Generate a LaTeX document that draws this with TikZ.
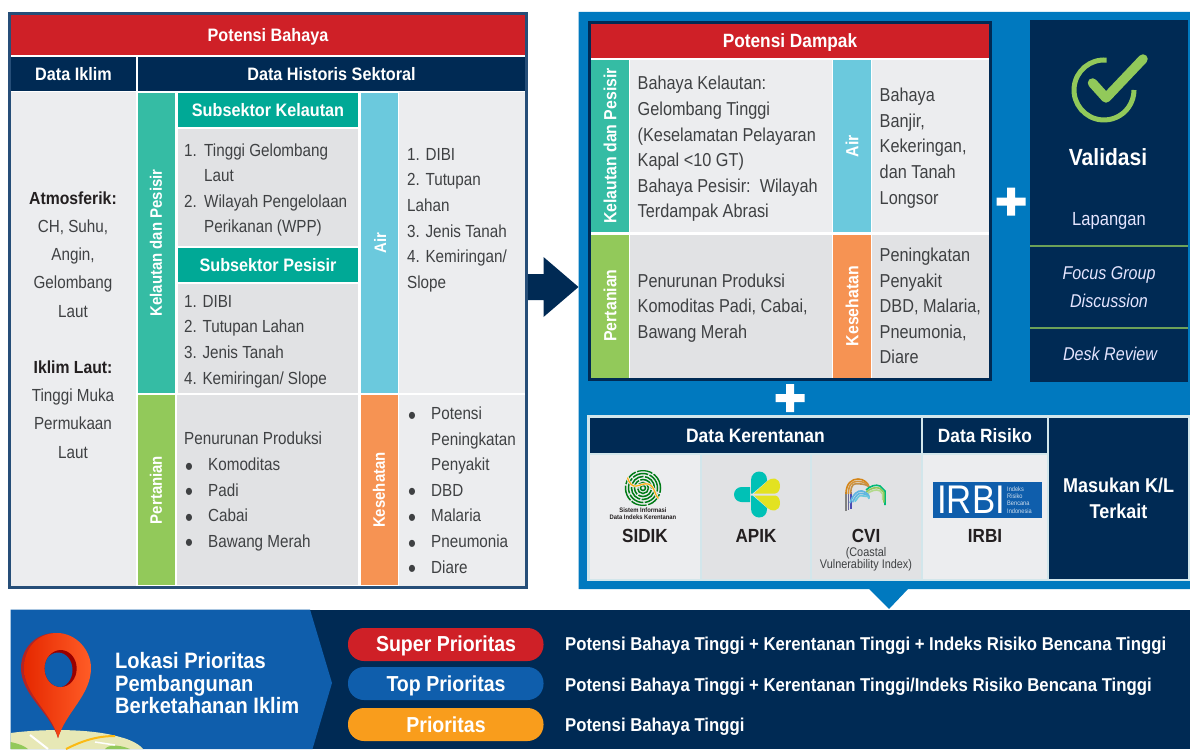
\documentclass[tikz,border=0pt]{standalone}
\usepackage{fontspec}
\setmainfont[FakeStretch=0.87]{Liberation Sans}
\newfontfamily\fb[FakeStretch=0.9]{Liberation Sans}
\definecolor{navy}{HTML}{002A54}
\definecolor{rim}{HTML}{264E78}
\definecolor{redb}{HTML}{CF2027}
\definecolor{blueb}{HTML}{0079BF}
\definecolor{midb}{HTML}{0F5EAC}
\definecolor{teal1}{HTML}{35BCA4}
\definecolor{teal2}{HTML}{00A996}
\definecolor{sky}{HTML}{6BC9DD}
\definecolor{leaf}{HTML}{92C95A}
\definecolor{orng}{HTML}{F69353}
\definecolor{amber}{HTML}{F99D1C}
\definecolor{pale}{HTML}{ECEDEF}
\definecolor{grey1}{HTML}{E1E2E4}
\definecolor{ink}{HTML}{3F4143}
\definecolor{ink2}{HTML}{231F20}
\newcommand\bxn[7][]{%
  \pgfmathsetmacro\cxv{(#3+#5)/2}\pgfmathsetmacro\cyv{(#4+#6)/2}%
  \pgfmathsetmacro\wv{#5-#3}\pgfmathsetmacro\hv{#6-#4}%
  \node[cellbox,#1,minimum width=\wv pt,minimum height=\hv pt] (#2) at (\cxv,\cyv) {#7};}
\newcommand\nb[1]{\makebox[20pt][l]{#1}}
\newcommand\bu{\makebox[24pt][l]{\hspace{1pt}\smash{\raisebox{-4.6pt}{\fontsize{26}{26}\selectfont\textbullet}}}}
\newcommand\plusmark[2]{\path[fill=white] (#1-14.5,#2-4)--(#1-4,#2-4)--(#1-4,#2-14)--(#1+4,#2-14)--(#1+4,#2-4)--(#1+14.5,#2-4)--(#1+14.5,#2+4)--(#1+4,#2+4)--(#1+4,#2+14)--(#1-4,#2+14)--(#1-4,#2+4)--(#1-14.5,#2+4)--cycle;}
\tikzset{
  cellbox/.style={inner sep=0pt,outer sep=0pt,draw=none,align=center},
  head/.style={text=white,font=\fb\bfseries\fontsize{18}{20}\selectfont},
  headb/.style={text=white,font=\fb\bfseries\fontsize{19.2}{20}\selectfont},
  vert/.style={inner sep=0pt,rotate=90,text=white,font=\fb\bfseries\fontsize{16.6}{20}\selectfont},
  vertb/.style={inner sep=0pt,rotate=90,text=white,font=\fb\bfseries\fontsize{17.6}{20}\selectfont},
  body/.style={inner sep=0pt,anchor=west,align=left,text=ink,font=\fontsize{17.5}{25.6}\selectfont},
  rbody/.style={inner sep=0pt,anchor=west,align=left,text=ink,font=\fontsize{18.7}{25.6}\selectfont},
  cbody/.style={inner sep=0pt,align=center,text=ink,font=\fontsize{17.5}{28.2}\selectfont},
  vtext/.style={inner sep=0pt,text=white!90!blue,font=\fontsize{19}{28}\selectfont,align=center},
  vital/.style={inner sep=0pt,text=white!90!blue,font=\itshape\fontsize{18.5}{28}\selectfont,align=center},
  logot/.style={inner sep=0pt,text=ink2,font=\fb\bfseries\fontsize{19}{20}\selectfont},
  pill/.style={rounded corners=16pt},
  pillt/.style={inner sep=0pt,text=white,font=\fb\bfseries\fontsize{21.7}{22}\selectfont},
  rowt/.style={inner sep=0pt,anchor=west,text=white,font=\fb\bfseries\fontsize{18.6}{20}\selectfont},
}
\begin{document}
\begin{tikzpicture}[x=1pt,y=-1pt]
\useasboundingbox (0,0) rectangle (1190,749);
\fill[white] (0,0) rectangle (1190,749);

% ---------- left panel
\draw[rim,line width=3pt,fill=white] (9.5,13.5) rectangle (526.5,587.5);
\bxn[fill=redb,head]{lred}{11}{15}{525}{55}{\raisebox{-7pt}[0pt][0pt]{Potensi Bahaya}}
\bxn[fill=navy,head]{liklim}{11}{57}{136}{91}{Data Iklim}
\bxn[fill=navy,head]{lhist}{138}{57}{525}{91}{Data Historis Sektoral}
\bxn[fill=pale]{lcell}{11}{92}{136}{586}{}
\node[cbody] (lclim) at (73,325) {{\fb\bfseries\color{ink2}Atmosferik:}\\CH, Suhu,\\Angin,\\Gelombang\\Laut\\[28.2pt]{\fb\bfseries\color{ink2}Iklim Laut:}\\Tinggi Muka\\Permukaan\\Laut};
\bxn[fill=teal1]{lkp}{138}{93}{175}{393}{}
\node[vert] (lkpt) at (156,243) {Kelautan dan Pesisir};
\bxn[fill=teal2,head]{lsk}{178}{93}{358}{127}{Subsektor Kelautan}
\bxn[fill=grey1]{lskc}{178}{129}{358}{246}{}
\node[body] (lskt) at (184,190) {\nb{1.}Tinggi Gelombang\\\nb{}Laut\\\nb{2.}Wilayah Pengelolaan\\\nb{}Perikanan (WPP)};
\bxn[fill=teal2,head]{lsp}{178}{248}{358}{282}{Subsektor Pesisir}
\bxn[fill=grey1]{lspc}{178}{284}{358}{393}{}
\node[body] (lspt) at (184,341.5) {1. DIBI\\2. Tutupan Lahan\\3. Jenis Tanah\\4. Kemiringan/ Slope};
\bxn[fill=sky]{lair}{361}{93}{398}{393}{}
\node[vert] (lairt) at (380,243) {Air};
\bxn[fill=pale]{laic}{399}{92}{525}{393}{}
\node[body] (laict) at (407,220) {1. DIBI\\2. Tutupan\\Lahan\\3. Jenis Tanah\\4. Kemiringan/\\Slope};
\bxn[fill=leaf]{lper}{138}{395}{175}{585}{}
\node[vert] (lpert) at (156,490) {Pertanian};
\bxn[fill=grey1]{lpec}{177}{395}{358}{585}{}
\node[body] (lpect) at (184,491.5) {Penurunan Produksi\\\bu Komoditas\\\bu Padi\\\bu Cabai\\\bu Bawang Merah};
\bxn[fill=orng]{lkes}{361}{395}{398}{585}{}
\node[vert] (lkest) at (379,490) {Kesehatan};
\bxn[fill=pale]{lkec}{399}{395}{525}{586}{}
\node[body] (lkect) at (407,490) {\bu Potensi\\\makebox[24pt]{}Peningkatan\\\makebox[24pt]{}Penyakit\\\bu DBD\\\bu Malaria\\\bu Pneumonia\\\bu Diare};

% ---------- arrow between panels
\path[fill=navy] (528,274)--(543.5,274)--(543.5,257)--(578.5,287)--(543.5,317)--(543.5,300)--(528,300)--cycle;

% ---------- blue panel
\path[fill=blueb] (578.5,12)--(1190,12)--(1190,589)--(908,589)--(889,609)--(869,589)--(578.5,589)--cycle;

% potensi dampak
\draw[navy,line width=3pt,fill=white] (589.5,22.5) rectangle (990.5,379.5);
\bxn[fill=redb,headb]{rred}{591}{24}{989}{58}{\raisebox{-6.5pt}[0pt][0pt]{Potensi Dampak}}
\bxn[fill=teal1]{rkp}{591}{60}{629}{232}{}
\node[vertb] (rkpt) at (610,146) {Kelautan dan Pesisir};
\bxn[fill=pale]{rkpc}{630}{60}{832}{232}{}
\node[rbody] (rkpct) at (637.5,149) {Bahaya Kelautan:\\Gelombang Tinggi\\(Keselamatan Pelayaran\\Kapal <10 GT)\\Bahaya Pesisir:\ \ Wilayah\\Terdampak Abrasi};
\bxn[fill=sky]{rair}{833}{60}{871}{232}{}
\node[vertb] (rairt) at (852,146) {Air};
\bxn[fill=pale]{raic}{872}{60}{989}{232}{}
\node[rbody] (raict) at (879.5,148) {Bahaya\\Banjir,\\Kekeringan,\\dan Tanah\\Longsor};
\bxn[fill=leaf]{rper}{591}{235}{629}{378}{}
\node[vertb] (rpert) at (610,305.5) {Pertanian};
\bxn[fill=grey1]{rpec}{630}{235}{832}{378}{}
\node[rbody] (rpect) at (637.5,308) {Penurunan Produksi\\Komoditas Padi, Cabai,\\Bawang Merah};
\bxn[fill=orng]{rkes}{833}{235}{871}{378}{}
\node[vertb] (rkest) at (852,306) {Kesehatan};
\bxn[fill=grey1]{rkec}{872}{235}{989}{378}{}
\node[rbody] (rkect) at (879.5,306) {Peningkatan\\Penyakit\\DBD, Malaria,\\Pneumonia,\\Diare};

% plus signs
\plusmark{1011}{201.5}
\plusmark{790}{398}

% validasi
\bxn[fill=navy]{vbox}{1030}{20}{1188}{382}{}
\draw[leaf,line width=5pt] (1104,90) ++(85:30pt) arc[start angle=85,end angle=360,radius=30pt];
\draw[leaf,line width=9.5pt,line cap=round,line join=round] (1092.5,83)--(1106,98)--(1143,59);
\node[inner sep=0pt,text=white,font=\fb\bfseries\fontsize{23.4}{24}\selectfont] (vtit) at (1108,157) {Validasi};
\node[vtext] (vlap) at (1109,220.5) {Lapangan};
\draw[leaf!75!navy,line width=2pt] (1030,246)--(1188,246);
\node[vital] (vfgd) at (1109,287) {Focus Group\\Discussion};
\draw[leaf!75!navy,line width=2pt] (1030,328)--(1188,328);
\node[vital] (vdr) at (1110,354) {Desk Review};

% ---------- data block
\bxn[fill=pale!80!sky]{dbg}{587}{415}{1190}{581}{}
\bxn[fill=navy,headb,font=\fb\bfseries\fontsize{19.4}{20}\selectfont]{dker}{590}{418}{921}{453}{Data Kerentanan}
\bxn[fill=navy,headb]{drsk}{923}{418}{1047}{453}{Data Risiko}
\bxn[fill=navy,head,font=\fb\bfseries\fontsize{20}{26}\selectfont]{dmas}{1049}{418}{1188}{579}{Masukan K/L\\Terkait}
\bxn[fill=pale]{dsid}{590}{455}{700}{579}{}
\bxn[fill=grey1]{dapi}{702}{455}{810}{579}{}
\bxn[fill=grey1]{dcvi}{812}{455}{921}{579}{}
\bxn[fill=pale]{dirb}{923}{455}{1047}{579}{}
\node[logot] (tsid) at (645,536) {SIDIK};
\node[logot] (tapi) at (756,536) {APIK};
\node[logot] (tcvi) at (866,536) {CVI};
\node[logot] (tirb) at (985,536) {IRBI};
\node[inner sep=0pt,text=ink,align=center,font=\fontsize{12.5}{12}\selectfont] (tcvs) at (866,559.5) {(Coastal\\Vulnerability Index)};
\node[inner sep=0pt,text=ink2,align=center,font=\fb\bfseries\fontsize{6.5}{6.4}\selectfont] (tsis) at (643,513.5) {Sistem Informasi\\Data Indeks Kerentanan};

% SIDIK fingerprint
\begin{scope}
\clip (643,488) ellipse[x radius=19pt,y radius=18pt];
\foreach \r in {2.5,5.5,8.5,11.5,14.5,17.5}{
  \draw[green!45!black!85!teal2,line width=1.5pt,dash pattern=on 16pt off 1.5pt] (643,488) circle[radius=\r pt];
}
\draw[pale,line width=2.6pt] (627,476) .. controls (632,494) and (640,482) .. (648,484) .. controls (656,486) and (654,498) .. (661,500);
\draw[amber!80!yellow,line width=1.3pt] (627,476) .. controls (632,494) and (640,482) .. (648,484) .. controls (656,486) and (654,498) .. (661,500);
\end{scope}

% APIK logo
\path[fill=teal2!60!cyan!95!black] (750,487) -- (741.5,487) arc[start angle=90,end angle=270,radius=7.5pt] -- (750,502) -- cycle;
\path[fill=teal2!60!cyan!95!black] (751,493.5) -- (751,480) .. controls (751,475) and (755,471.5) .. (759,471.5) .. controls (764,471.5) and (767,475) .. (767,480) -- (767,481) -- (752.5,493.5) -- cycle;
\path[fill=teal2!60!cyan!95!black] (751,495.5) -- (751,509) .. controls (751,514) and (755,517.5) .. (759,517.5) .. controls (764,517.5) and (767,514) .. (767,509) -- (767,508) -- (752.5,495.5) -- cycle;
\path[fill=yellow!88!teal] (754,493.5) -- (767.5,481) .. controls (771,477) and (780,477) .. (780,486) .. controls (780,490) and (778,493.5) .. (775,493.5) -- cycle;
\path[fill=yellow!88!teal] (754,495.5) -- (767.5,508) .. controls (771,512) and (780,512) .. (780,503) .. controls (780,499) and (778,495.5) .. (775,495.5) -- cycle;

% CVI logo
\foreach \d/\c in {0/gray,2.4/gray!80!blue,4.8/gray!60!blue}{
  \draw[\c,line width=1.6pt] (846+\d,492) -- (846+\d,511-\d*0.5);
}
\foreach \d/\c in {0/amber!85!black,2.4/amber!70!gray,4.8/amber!55!gray}{
  \draw[\c,line width=1.6pt] (846+\d,494) .. controls (846+\d,483) and (852+\d*0.5,479+\d) .. (858,479+\d) .. controls (864,479+\d) and (868,483+\d*0.5) .. (869,487);
}
\foreach \d/\c in {0/teal2!80!green,2.4/leaf,4.8/leaf!70!white}{
  \draw[\c,line width=1.6pt] (866,490+\d) .. controls (870,486+\d) and (876,484+\d) .. (880,486+\d) -- (885-\d*0.5,491+\d*0.6) -- (885-\d*0.5,505-\d);
}
\foreach \d/\c in {0/sky!90!blue,2.4/sky!90!blue,4.8/sky}{
  \draw[\c,line width=1.7pt] (850+\d,503-\d*0.3) .. controls (853+\d,494+\d) and (858,490+\d) .. (862,491+\d) .. controls (866,492+\d) and (869,495) .. (869,497+\d*0.4);
}

% IRBI logo
\node[fill=midb,inner sep=0pt,minimum width=109pt,minimum height=36pt] (ilogo) at (987.5,500) {};
\node[inner sep=0pt,anchor=west,text=white,font=\fontsize{40}{40}\selectfont] (iname) at (937,499.5) {IRBI};
\node[inner sep=0pt,anchor=west,align=left,text=white!80!midb,font=\fontsize{6.5}{7.3}\selectfont] (isub) at (1007,500) {Indeks\\Risiko\\Bencana\\Indonesia};

% ---------- bottom band
\path[fill=navy] (10.5,609.5) rectangle (1190,749);
\path[fill=midb] (10.5,609.5)--(310,609.5)--(332,683)--(312.5,749)--(10.5,749)--cycle;
\begin{scope}
\clip (10.5,700) rectangle (200,749);
\path[fill=grey1!80!yellow] (10.5,733) .. controls (40,729) and (90,728) .. (120,737) .. controls (132,740) and (140,745) .. (143,749) -- (10.5,749) -- cycle;
\path[fill=leaf] (10.5,742) .. controls (20,744) and (24,746) .. (28,749) -- (10.5,749) -- cycle;
\path[fill=leaf] (105,749) .. controls (108,745) and (118,744) .. (130,749) -- cycle;
\draw[amber!70!yellow,line width=2pt] (66,749) .. controls (80,742) and (95,736) .. (115,736);
\draw[white,line width=2pt] (30,735) -- (48,749);
\draw[white,line width=1.5pt] (95,742) -- (115,745);
\end{scope}
\path[fill=orng!10!redb!85!black] (58,738) .. controls (50,712) and (21,695) .. (21,668) .. controls (21,648) and (36,633) .. (55,633) .. controls (74,633) and (89,650) .. (89,668) .. controls (89,695) and (66,712) .. (58,738) -- cycle;
\path[left color=red!65!orange!90!black,right color=red!50!orange!85!white] (58,738) .. controls (52,712) and (24,695) .. (24,668) .. controls (24,648) and (38,633) .. (57,633) .. controls (76,633) and (91,650) .. (91,668) .. controls (91,695) and (66,712) .. (58,738) -- cycle;
\path[fill=red!60!black] (60.7,668.5) ellipse[x radius=16pt,y radius=18.5pt];
\begin{scope}
\clip (60.7,668.5) ellipse[x radius=16pt,y radius=18.5pt];
\path[fill=midb] (58,670) ellipse[x radius=14.5pt,y radius=17.5pt];
\end{scope}

\node[inner sep=0pt,anchor=west,align=left,text=white,font=\fb\bfseries\fontsize{22.3}{22.5}\selectfont] (ltit) at (115,683.5) {Lokasi Prioritas\\Pembangunan\\Berketahanan Iklim};

\path[fill=redb,pill] (348,628) rectangle (543.5,661);
\node[pillt] (p1) at (446,646) {Super Prioritas};
\path[fill=midb,pill] (348,667) rectangle (543.5,700);
\node[pillt] (p2) at (446,685.5) {Top Prioritas};
\path[fill=amber,pill] (348,708) rectangle (543.5,741);
\node[pillt] (p3) at (446,725) {Prioritas};
\node[rowt] (r1) at (565,645.5) {Potensi Bahaya Tinggi + Kerentanan Tinggi + Indeks Risiko Bencana Tinggi};
\node[rowt] (r2) at (565,686.5) {Potensi Bahaya Tinggi + Kerentanan Tinggi/Indeks Risiko Bencana Tinggi};
\node[rowt] (r3) at (565,726.5) {Potensi Bahaya Tinggi};
\end{tikzpicture}
\end{document}
